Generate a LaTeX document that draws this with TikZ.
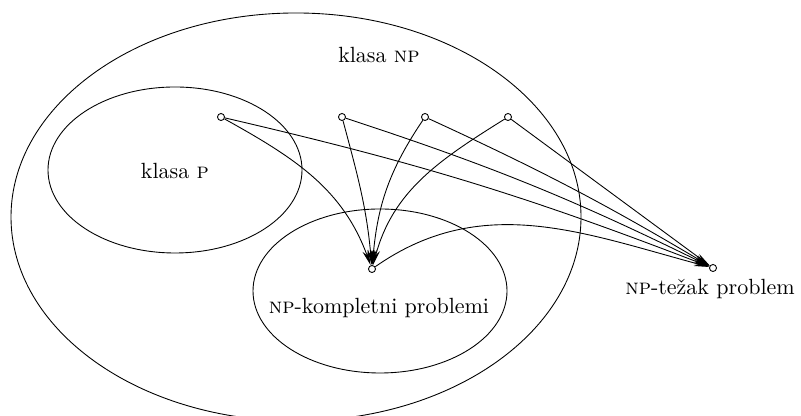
\documentclass[tikz,border=0pt]{standalone}
\usetikzlibrary{arrows.meta}
\tikzset{
  tocka/.style={circle, draw, fill=white, inner sep=0pt, minimum size=3.2pt},
  strelica/.style={-{Stealth[length=7pt,width=2.8pt]}},
}
\begin{document}
\begin{tikzpicture}[x=0.4545pt, y=0.4545pt]
\useasboundingbox (0,0) rectangle (801,416);
% klase problema
\draw (296,199) ellipse (285 and 204);
\draw (175,246) ellipse (127 and 83);
\draw (380,125) ellipse (127 and 82);
\node (npl) at (379,361) {klasa \textsc{np}};
\node (pl) at (175,245) {klasa \textsc{p}};
\node (npcl) at (379,108) {\textsc{np}-kompletni problemi};
% problemi
\node[tocka] (p1) at (221,299) {};
\node[tocka] (p2) at (342,299) {};
\node[tocka] (p3) at (425,299) {};
\node[tocka] (p4) at (508,299) {};
\node[tocka] (c) at (372,147) {};
\node[tocka] (h) at (713,148) {};
\node (hl) at (710,127) {\textsc{np}-težak problem};
% redukcije na NP-kompletan problem
\draw[strelica] (p1) to[out=-29, in=110] (c);
\draw[strelica] (p2) to[out=-75, in=95] (c);
\draw[strelica] (p3) to[out=-124, in=85] (c);
\draw[strelica] (p4) to[out=-148, in=75] (c);
% redukcije na NP-težak problem
\draw[strelica] (p1) to[bend left=4] (h);
\draw[strelica] (p2) to[bend left=4] (h);
\draw[strelica] (p3) to[bend left=3] (h);
\draw[strelica] (p4) to (h);
\draw[strelica] (c) to[out=35, in=165] (h);
\end{tikzpicture}
\end{document}
